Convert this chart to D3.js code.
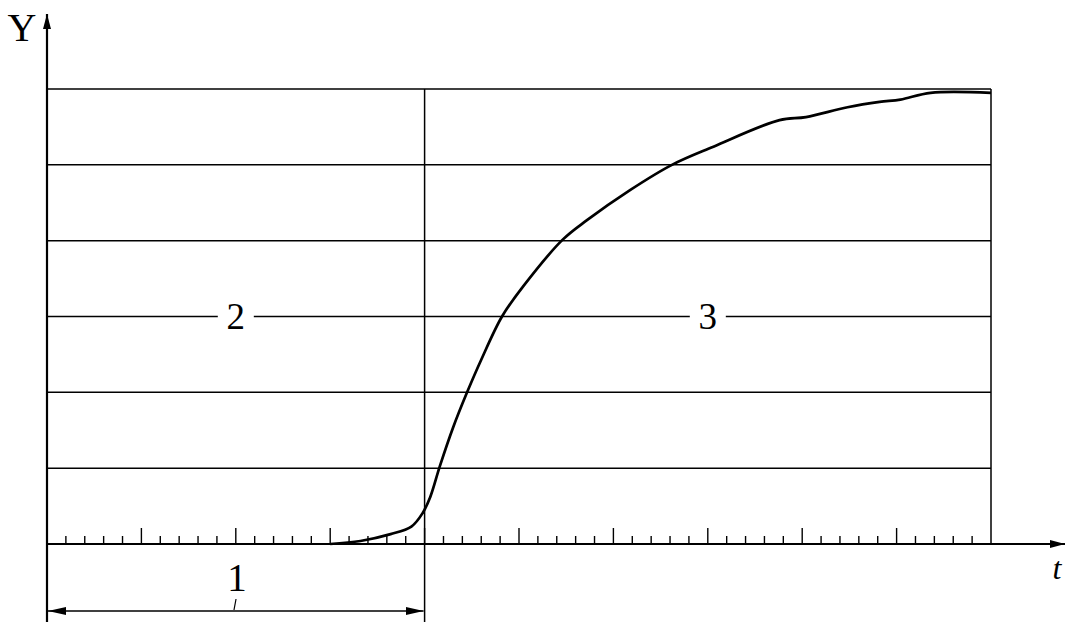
<!DOCTYPE html>
<head>
  <meta charset="utf-8">
  <script src="https://d3js.org/d3.v7.min.js"></script>
  <style>
    body { margin: 0; background: #fff; }
    svg { width: 1065px; height: 622px; display: block; }
    text { font-family: 'Liberation Serif', 'DejaVu Serif', serif; fill: #000; }
  </style>
</head>

<body>
  <svg></svg>

  <script>
    // time in tick units (50 ticks across), Y in grid rows (6 rows)
    const curveT = [15, 16.6, 18.2, 19.3, 19.9, 20.3, 20.8, 21.5, 22.25, 23.0, 24.1, 25.2, 27.3, 28.6, 30.9, 33.1, 35.3, 38.8, 40.2, 42.4, 44.1, 45.2, 46.8, 50];
    const curveY = [0, 0.04, 0.13, 0.23, 0.41, 0.62, 1.02, 1.53, 2.0, 2.43, 3.0, 3.39, 4.01, 4.27, 4.67, 5.0, 5.24, 5.59, 5.63, 5.76, 5.83, 5.86, 5.95, 5.95];
    const gridRows = [1, 2, 3, 4, 5, 6];
    const splitT = [20, 50];
    const regionLabels = ['2', '3'];
    const regionLabelT = [10, 35];
    const rangeLabel = '1';

    const svg = d3.select('svg');

    const x = d3.scaleLinear().domain([0, 50]).range([47, 991]);
    const y = d3.scaleLinear().domain([0, 6]).range([544, 89]);

    // markers
    const defs = svg.append('defs');
    defs.append('marker').attr('id', 'arr')
      .attr('viewBox', '0 0 15 8').attr('refX', 15).attr('refY', 4)
      .attr('markerWidth', 15).attr('markerHeight', 8).attr('markerUnits', 'userSpaceOnUse')
      .attr('orient', 'auto-start-reverse')
      .append('path').attr('d', 'M0,0 L15,4 L0,8 z').attr('fill', '#000');
    defs.append('marker').attr('id', 'arrBig')
      .attr('viewBox', '0 0 18 8').attr('refX', 18).attr('refY', 4)
      .attr('markerWidth', 18).attr('markerHeight', 8).attr('markerUnits', 'userSpaceOnUse')
      .attr('orient', 'auto-start-reverse')
      .append('path').attr('d', 'M0,0 L18,4 L0,8 z').attr('fill', '#000');

    // horizontal grid
    svg.selectAll('line.grid').data(gridRows).enter().append('line')
      .attr('class', 'grid')
      .attr('x1', x(0)).attr('x2', x(50))
      .attr('y1', d => y(d)).attr('y2', d => y(d))
      .attr('stroke', '#000').attr('stroke-width', 1.5);

    // vertical dividers
    svg.append('line').attr('x1', x(splitT[0])).attr('x2', x(splitT[0]))
      .attr('y1', y(6)).attr('y2', 622).attr('stroke', '#000').attr('stroke-width', 1.5);
    svg.append('line').attr('x1', x(splitT[1])).attr('x2', x(splitT[1]))
      .attr('y1', y(6)).attr('y2', y(0)).attr('stroke', '#000').attr('stroke-width', 1.5);

    // ticks
    const ticks = d3.range(1, 50);
    svg.selectAll('line.tick').data(ticks).enter().append('line')
      .attr('x1', d => x(d)).attr('x2', d => x(d))
      .attr('y1', y(0)).attr('y2', d => y(0) - (d % 5 === 0 ? 16 : 8))
      .attr('stroke', '#000').attr('stroke-width', 1.4);

    // axes
    svg.append('line').attr('x1', x(0)).attr('x2', 1065)
      .attr('y1', y(0)).attr('y2', y(0))
      .attr('stroke', '#000').attr('stroke-width', 2.2)
      .attr('marker-end', 'url(#arr)');
    svg.append('line').attr('x1', x(0)).attr('x2', x(0))
      .attr('y1', 622).attr('y2', 14)
      .attr('stroke', '#000').attr('stroke-width', 2.2)
      .attr('marker-end', 'url(#arr)');

    // curve
    const pts = curveT.map((t, i) => [t, curveY[i]]);
    svg.append('path').datum(pts)
      .attr('d', d3.line().x(d => x(d[0])).y(d => y(d[1])).curve(d3.curveCatmullRom.alpha(0.5)))
      .attr('fill', 'none').attr('stroke', '#000').attr('stroke-width', 2.7)
      .attr('stroke-linejoin', 'round');

    // region labels with gap in grid line
    regionLabels.forEach((lab, i) => {
      const cx = x(regionLabelT[i]), cy = y(3);
      svg.append('rect').attr('x', cx - 18).attr('y', cy - 18)
        .attr('width', 36).attr('height', 36).attr('fill', '#fff');
      svg.append('text').attr('x', cx).attr('y', cy + 12)
        .attr('text-anchor', 'middle').attr('font-size', 37).text(lab);
    });

    // range 1 dimension
    svg.append('line').attr('x1', x(0) + 1).attr('x2', x(splitT[0]) - 1)
      .attr('y1', 611).attr('y2', 611)
      .attr('stroke', '#000').attr('stroke-width', 1.6)
      .attr('marker-start', 'url(#arrBig)').attr('marker-end', 'url(#arrBig)');
    svg.append('line').attr('x1', 236).attr('x2', 234).attr('y1', 599).attr('y2', 610)
      .attr('stroke', '#000').attr('stroke-width', 1.2);
    svg.append('text').attr('x', 237).attr('y', 591)
      .attr('text-anchor', 'middle').attr('font-size', 39).text(rangeLabel);

    // axis names
    svg.append('text').attr('x', 22).attr('y', 41)
      .attr('text-anchor', 'middle').attr('font-size', 40).text('Y');
    svg.append('text').attr('x', 1057).attr('y', 579)
      .attr('text-anchor', 'middle').attr('font-size', 32).attr('font-style', 'italic').text('t');
  </script>
</body>
